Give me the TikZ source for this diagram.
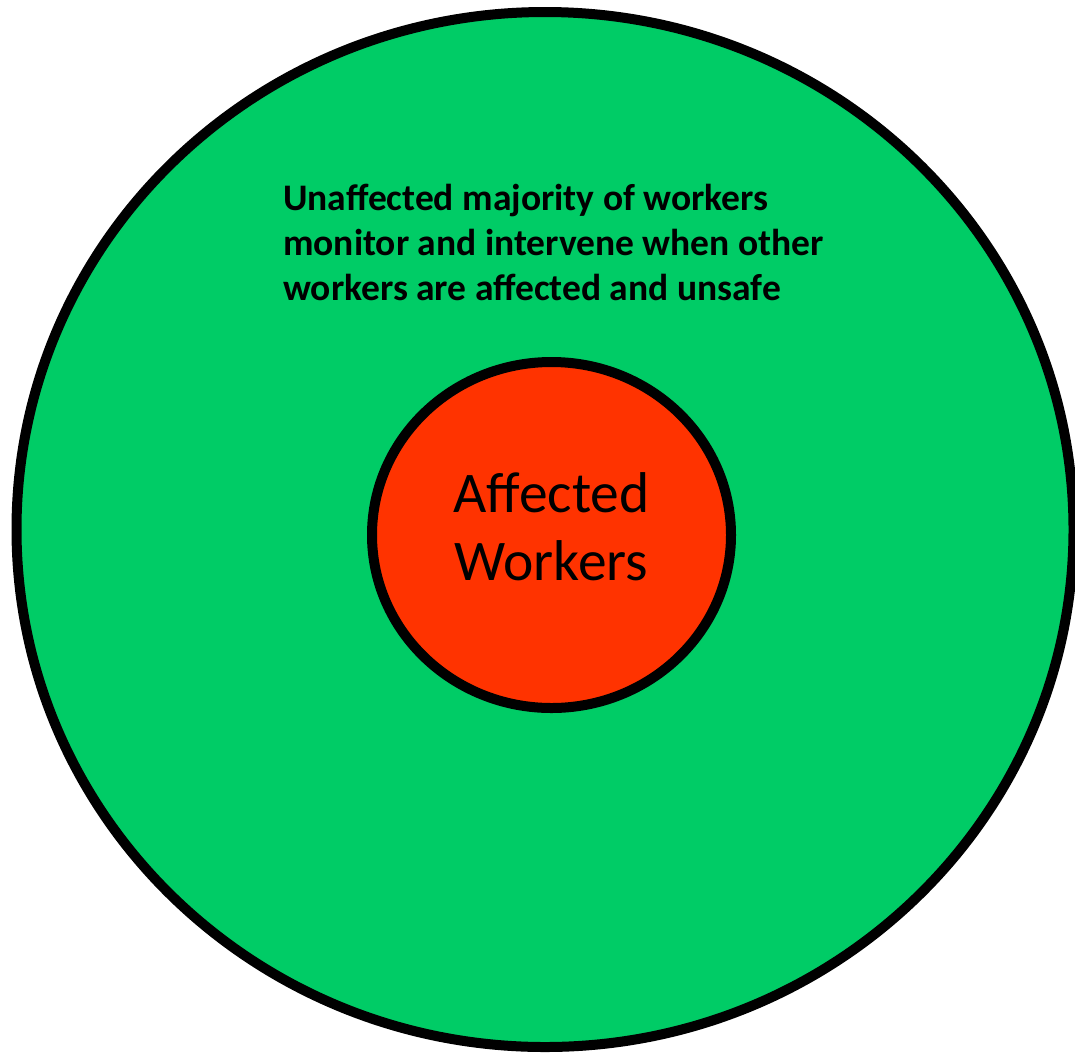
\documentclass[tikz,border=0pt]{standalone}
\usepackage{fontspec}
\setmainfont{Carlito}
\usetikzlibrary{shapes.geometric}
\definecolor{safegreen}{RGB}{0,204,102}
\definecolor{unsafered}{RGB}{255,51,0}
\tikzset{ring/.style={ellipse, draw, line width=10pt, inner sep=0pt}}

\begin{document}
\begin{tikzpicture}[x=1pt,y=-1pt]
\useasboundingbox[fill=white] (0,0) rectangle (1075,1053);

\node[ring, fill=safegreen, minimum width=1057pt, minimum height=1035pt] (outer) at (545,529.5) {};
\node[ring, fill=unsafered, minimum width=359pt, minimum height=346pt] (inner) at (551.5,535) {};

\node[anchor=north west, inner sep=0pt, align=left, font=\fontsize{37.5}{45}\selectfont\bfseries]
  (majority) at (283,184) {Unaffected majority of workers\\monitor and intervene when other\\workers are affected and unsafe};
\node[align=center, inner sep=0pt, font=\fontsize{57.5}{68}\selectfont]
  (affected) at (551.5,527) {Affected\\Workers};
\end{tikzpicture}
\end{document}
